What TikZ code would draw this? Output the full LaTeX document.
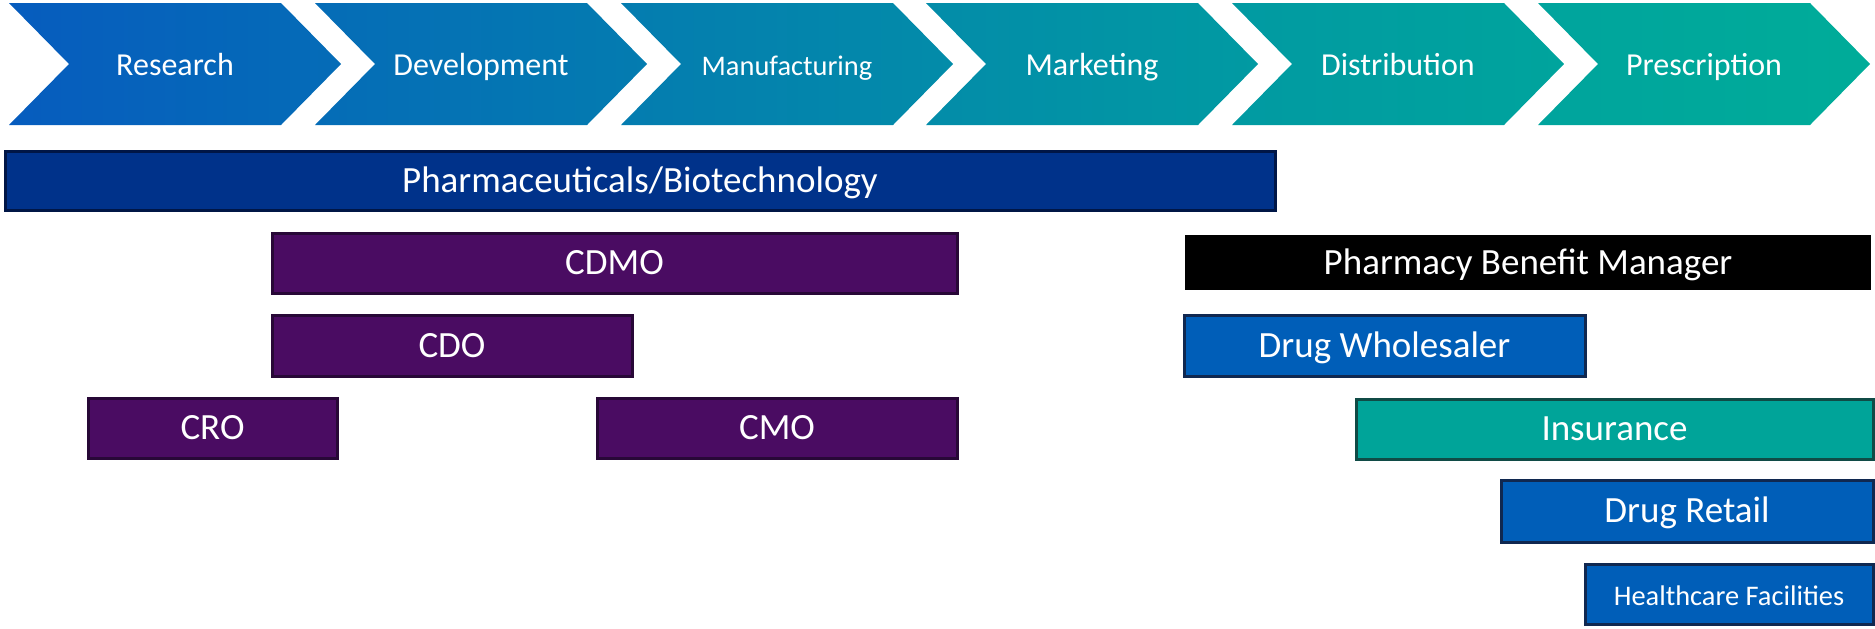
\documentclass[tikz,border=0pt]{standalone}
\usepackage{fontspec}
\setmainfont{Carlito}
\definecolor{chevA}{RGB}{6,92,190}
\definecolor{chevB}{RGB}{5,108,183}
\definecolor{chevC}{RGB}{4,124,176}
\definecolor{chevD}{RGB}{3,140,169}
\definecolor{chevE}{RGB}{1,154,162}
\definecolor{chevF}{RGB}{0,164,157}
\definecolor{chevG}{RGB}{0,172,153}
\definecolor{pharmablue}{RGB}{0,50,138}
\definecolor{pharmaline}{RGB}{0,22,70}
\definecolor{cxopurple}{RGB}{74,12,98}
\definecolor{cxoline}{RGB}{40,8,55}
\definecolor{tradeblue}{RGB}{0,94,184}
\definecolor{tradeline}{RGB}{16,40,80}
\definecolor{insurteal}{RGB}{0,164,153}
\definecolor{insurline}{RGB}{16,75,70}

\begin{document}
\begin{tikzpicture}[x=0.5pt,y=-0.5pt,
  stagelabel/.style={text=white,text height=1.5ex,text depth=.25ex,yshift=-3pt,font=\fontsize{16}{19}\selectfont},
  barlabel/.style={text=white,text height=1.5ex,text depth=.25ex,yshift=-3pt,font=\fontsize{18.5}{22}\selectfont},
  smalllabel/.style={text=white,text height=1.5ex,text depth=.25ex,yshift=-3pt,font=\fontsize{14.2}{17}\selectfont},
  barbox/.style={line width=1.5pt}]
\useasboundingbox (0,0) rectangle (1875,628);
% value chain
\shade[left color=chevA,right color=chevB] (9,3) -- ++(272,0) -- ++(60,61) -- ++(-60,61) -- ++(-272,0) -- ++(60,-61) -- cycle;
\shade[left color=chevB,right color=chevC] (315,3) -- ++(272,0) -- ++(60,61) -- ++(-60,61) -- ++(-272,0) -- ++(60,-61) -- cycle;
\shade[left color=chevC,right color=chevD] (621,3) -- ++(272,0) -- ++(60,61) -- ++(-60,61) -- ++(-272,0) -- ++(60,-61) -- cycle;
\shade[left color=chevD,right color=chevE] (926,3) -- ++(272,0) -- ++(60,61) -- ++(-60,61) -- ++(-272,0) -- ++(60,-61) -- cycle;
\shade[left color=chevE,right color=chevF] (1232,3) -- ++(272,0) -- ++(60,61) -- ++(-60,61) -- ++(-272,0) -- ++(60,-61) -- cycle;
\shade[left color=chevF,right color=chevG] (1538,3) -- ++(272,0) -- ++(60,61) -- ++(-60,61) -- ++(-272,0) -- ++(60,-61) -- cycle;
\node[stagelabel] (research) at (175,64) {Research};
\node[stagelabel] (development) at (481,64) {Development};
\node[smalllabel] (manufacturing) at (787,64) {Manufacturing};
\node[stagelabel] (marketing) at (1092,64) {Marketing};
\node[stagelabel] (distribution) at (1398,64) {Distribution};
\node[stagelabel] (prescription) at (1704,64) {Prescription};
% players
\draw[barbox,fill=pharmablue,draw=pharmaline] (5,151) rectangle (1275,210);
\draw[barbox,fill=cxopurple,draw=cxoline] (272,233) rectangle (957,293);
\draw[barbox,fill=cxopurple,draw=cxoline] (272,315) rectangle (632,376);
\draw[barbox,fill=cxopurple,draw=cxoline] (88,398) rectangle (337,458);
\draw[barbox,fill=cxopurple,draw=cxoline] (597,398) rectangle (957,458);
\fill[black] (1185,235) rectangle (1871,290);
\draw[barbox,fill=tradeblue,draw=tradeline] (1184,315) rectangle (1585,376);
\draw[barbox,fill=insurteal,draw=insurline] (1356,399) rectangle (1873,459);
\draw[barbox,fill=tradeblue,draw=tradeline] (1501,480) rectangle (1873,542);
\draw[barbox,fill=tradeblue,draw=tradeline] (1585,564) rectangle (1873,624);
\node[barlabel] (pharma) at (640,180.5) {Pharmaceuticals/Biotechnology};
\node[barlabel] (cdmo) at (614.5,263) {CDMO};
\node[barlabel] (cdo) at (452,345.5) {CDO};
\node[barlabel] (cro) at (212.5,428) {CRO};
\node[barlabel] (cmo) at (777,428) {CMO};
\node[barlabel] (pbm) at (1528,262.5) {Pharmacy Benefit Manager};
\node[barlabel] (wholesaler) at (1384.5,345.5) {Drug Wholesaler};
\node[barlabel] (insurance) at (1614.5,429) {Insurance};
\node[barlabel] (retail) at (1687,511) {Drug Retail};
\node[smalllabel] (facilities) at (1729,594) {Healthcare Facilities};
\end{tikzpicture}
\end{document}
